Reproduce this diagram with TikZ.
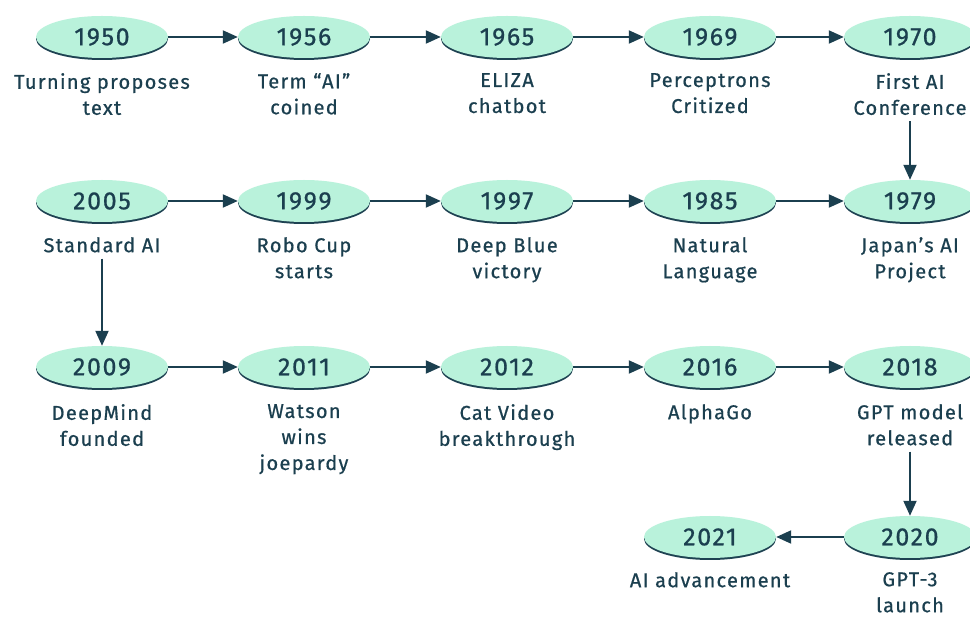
\documentclass[tikz,border=0pt]{standalone}
\usepackage{fontspec}
\setmainfont{Fira Sans}[LetterSpace=6.5, FakeBold=0.7]
\usetikzlibrary{shapes.geometric,arrows.meta,shadows}
\definecolor{mint}{HTML}{B9F2DB}
\definecolor{ink}{HTML}{1B3F4F}
\definecolor{shade}{HTML}{1E4252}
\tikzset{
  yr/.style={ellipse, fill=mint, minimum width=132pt, minimum height=42pt, inner sep=0pt,
    text=ink, font=\fontsize{25}{28}\selectfont,
    drop shadow={shadow xshift=0pt, shadow yshift=-2pt, fill=shade, opacity=1}},
  lbl/.style={anchor=north, inner sep=0pt, align=center, text=ink, font=\fontsize{20}{26}\selectfont},
  conn/.style={draw=ink, line width=2pt, -{Triangle[length=15pt,width=13pt]}},
  vconn/.style={conn, shorten <=6pt}
}
\begin{document}
\begin{tikzpicture}[x=1pt,y=-1pt]
\useasboundingbox (0,0) rectangle (970,617);
\clip (0,0) rectangle (970,617);
\fill[white] (0,0) rectangle (970,617);
% row 1
\node[yr] (y1950) at (102,37) {1950};
\node[yr] (y1956) at (304,37) {1956};
\node[yr] (y1965) at (507,37) {1965};
\node[yr] (y1969) at (710,37) {1969};
\node[yr] (y1970) at (910,37) {1970};
\node[lbl] (l1950) at (102,73) {Turning proposes\\text};
\node[lbl] (l1956) at (304,73) {Term “AI”\\coined};
\node[lbl] (l1965) at (507,73) {ELIZA\\chatbot};
\node[lbl] (l1969) at (710,73) {Perceptrons\\Critized};
\node[lbl] (l1970) at (910,73) {First AI\\Conference};
% row 2
\node[yr] (y2005) at (102,201) {2005};
\node[yr] (y1999) at (304,201) {1999};
\node[yr] (y1997) at (507,201) {1997};
\node[yr] (y1985) at (710,201) {1985};
\node[yr] (y1979) at (910,201) {1979};
\node[lbl] (l2005) at (102,237) {Standard AI};
\node[lbl] (l1999) at (304,237) {Robo Cup\\starts};
\node[lbl] (l1997) at (507,237) {Deep Blue\\victory};
\node[lbl] (l1985) at (710,237) {Natural\\Language};
\node[lbl] (l1979) at (910,237) {Japan’s AI\\Project};
% row 3
\node[yr] (y2009) at (102,367) {2009};
\node[yr] (y2011) at (304,367) {2011};
\node[yr] (y2012) at (507,367) {2012};
\node[yr] (y2016) at (710,367) {2016};
\node[yr] (y2018) at (910,367) {2018};
\node[lbl] (l2009) at (102,404) {DeepMind\\founded};
\node[lbl] (l2011) at (304,404) {Watson\\wins\\joepardy};
\node[lbl] (l2012) at (507,404) {Cat Video\\breakthrough};
\node[lbl] (l2016) at (710,404) {AlphaGo};
\node[lbl] (l2018) at (910,404) {GPT model\\released};
% row 4
\node[yr] (y2021) at (710,537) {2021};
\node[yr] (y2020) at (910,537) {2020};
\node[lbl] (l2021) at (710,572) {AI advancement};
\node[lbl] (l2020) at (910,572) {GPT-3\\launch};
% connectors
\draw[conn] (y1950) -- (y1956);
\draw[conn] (y1956) -- (y1965);
\draw[conn] (y1965) -- (y1969);
\draw[conn] (y1969) -- (y1970);
\draw[vconn] (l1970) -- (y1979);
\draw[conn] (y2005) -- (y1999);
\draw[conn] (y1999) -- (y1997);
\draw[conn] (y1997) -- (y1985);
\draw[conn] (y1985) -- (y1979);
\draw[vconn] (l2005) -- (y2009);
\draw[conn] (y2009) -- (y2011);
\draw[conn] (y2011) -- (y2012);
\draw[conn] (y2012) -- (y2016);
\draw[conn] (y2016) -- (y2018);
\draw[vconn] (l2018) -- (y2020);
\draw[conn] (y2020) -- (y2021);
\end{tikzpicture}
\end{document}
